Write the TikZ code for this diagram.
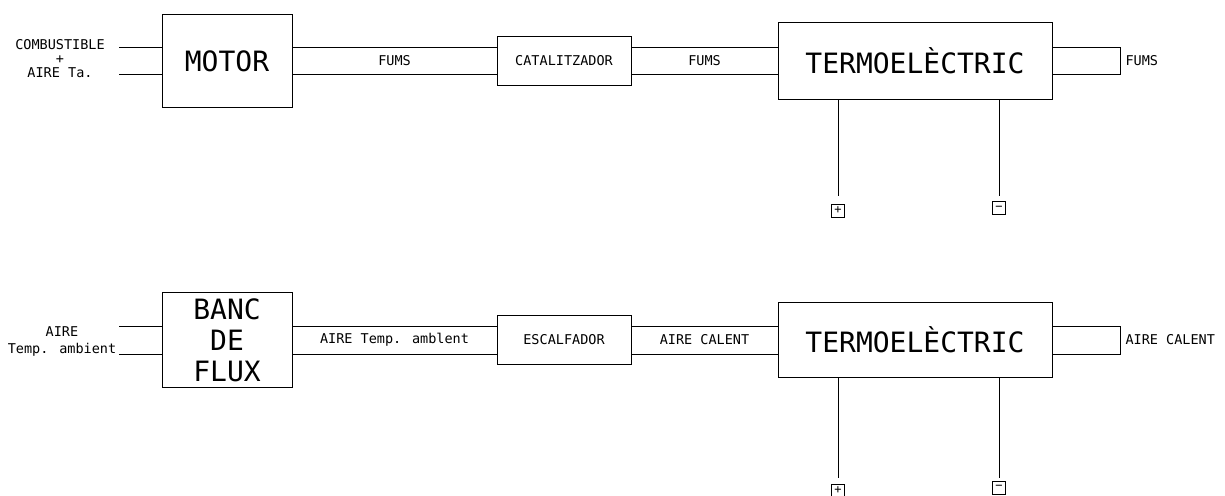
\documentclass[tikz,border=0pt]{standalone}
\usepackage{fontspec}
\setmainfont{DejaVu Sans Mono}
\usetikzlibrary{positioning}

\begin{document}
\begin{tikzpicture}[x=1pt, y=-1pt, line width=1pt,
    box/.style={draw, inner sep=0pt, align=center},
    big/.style={font=\fontsize{28}{31}\selectfont},
    lbl/.style={font=\fontsize{13.5}{14}\selectfont, inner sep=0pt},
    pole/.style={draw, line width=0.8pt, minimum size=13pt, inner sep=0pt,
                 font=\fontsize{12}{12}\selectfont}]
  \useasboundingbox (0,0) rectangle (1225,495);

  \node[box, big, minimum width=130pt, minimum height=92pt] (motor) at (227,61) {MOTOR};
  \node[box, lbl, minimum width=134pt, minimum height=48pt] (cat) at (564,61) {CATALITZADOR};
  \node[box, big, minimum width=274pt, minimum height=76pt] (termo) at (915,61) {TERMOELÈCTRIC};
  \node[lbl, align=center] (fuel) at (60,59) {COMBUSTIBLE\\+\\AIRE Ta.};
  \coordinate (in1) at (119,47.5);
  \coordinate (in2) at (119,74.5);
  \coordinate (out1) at (1120,61);
  \node[pole] (p1) at (838,210.5) {+};
  \node[pole] (m1) at (999,208) {−};

  \draw (in1) -- (motor.west |- in1) (in2) -- (motor.west |- in2);
  \draw ([yshift=13.5pt]motor.east) -- ([yshift=13.5pt]cat.west)
        ([yshift=-13.5pt]motor.east) -- ([yshift=-13.5pt]cat.west);
  \draw ([yshift=13.5pt]cat.east) -- ([yshift=13.5pt]termo.west)
        ([yshift=-13.5pt]cat.east) -- ([yshift=-13.5pt]termo.west);
  \path (motor) -- node[lbl] (fums1) {FUMS} (cat);
  \path (cat) -- node[lbl] (fums2) {FUMS} (termo);
  \draw ([yshift=13.5pt]termo.east) -| (out1) |- ([yshift=-13.5pt]termo.east);
  \node[lbl, right=5pt of out1] (fums3) {FUMS};
  \draw (termo.south -| p1) -- ([yshift=8pt]p1.north);
  \draw (termo.south -| m1) -- ([yshift=5pt]m1.north);

  \node[box, big, minimum width=130pt, minimum height=95pt] (banc) at (227,340) {BANC\\DE\\FLUX};
  \node[box, lbl, minimum width=134pt, minimum height=49pt] (escal) at (564,340) {ESCALFADOR};
  \node[box, big, minimum width=274pt, minimum height=75pt] (termob) at (915,340) {TERMOELÈCTRIC};
  \node[lbl, align=center] (air) at (62,341.5) {AIRE\\[3pt]Temp. ambient};
  \coordinate (in3) at (119,326);
  \coordinate (in4) at (119,354);
  \coordinate (out2) at (1120,340);
  \node[pole] (p2) at (838,490.5) {+};
  \node[pole] (m2) at (999,487.5) {−};

  \draw (in3) -- (banc.west |- in3) (in4) -- (banc.west |- in4);
  \draw ([yshift=14pt]banc.east) -- ([yshift=14pt]escal.west)
        ([yshift=-14pt]banc.east) -- ([yshift=-14pt]escal.west);
  \draw ([yshift=14pt]escal.east) -- ([yshift=14pt]termob.west)
        ([yshift=-14pt]escal.east) -- ([yshift=-14pt]termob.west);
  \path (banc) -- node[lbl] (amb) {AIRE Temp. amblent} (escal);
  \path (escal) -- node[lbl] (hot1) {AIRE CALENT} (termob);
  \draw ([yshift=14pt]termob.east) -| (out2) |- ([yshift=-14pt]termob.east);
  \node[lbl, right=5pt of out2] (hot2) {AIRE CALENT};
  \draw (termob.south -| p2) -- ([yshift=6pt]p2.north);
  \draw (termob.south -| m2) -- ([yshift=3pt]m2.north);
\end{tikzpicture}
\end{document}
